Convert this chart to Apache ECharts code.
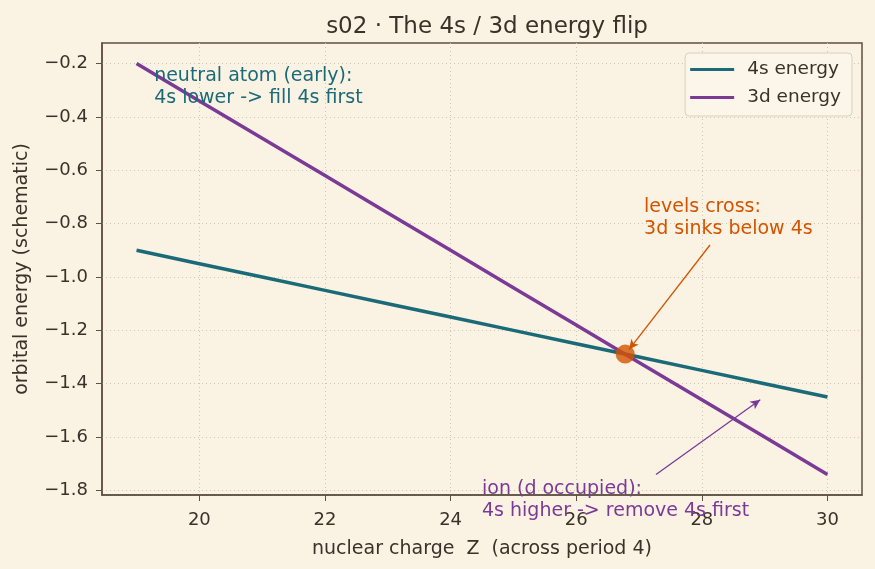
<!DOCTYPE html>
<html>
<head>
<meta charset="utf-8">
<script src="https://cdn.jsdelivr.net/npm/echarts@6/dist/echarts.min.js"></script>
<style>
  html, body { margin: 0; padding: 0; background: #faf2e3; }
  #chart_box { width: 875px; height: 569px; }
</style>
</head>
<body>
<div id="chart_box"></div>
<script>
// nuclear charge Z across period 4
var zValues = [19, 20, 21, 22, 23, 24, 25, 26, 27, 28, 29, 30]
var energy4s = [-0.90, -0.95, -1.00, -1.05, -1.10, -1.15, -1.20, -1.25, -1.30, -1.35, -1.40, -1.45]
var energy3d = [-0.20, -0.34, -0.48, -0.62, -0.76, -0.90, -1.04, -1.18, -1.32, -1.46, -1.60, -1.74]
var crossPoint = [26.78, -1.289]
var xTicks = [20, 22, 24, 26, 28, 30]
var yTicks = [-1.8, -1.6, -1.4, -1.2, -1.0, -0.8, -0.6, -0.4, -0.2]

var teal = '#1b6a78'
var purple = '#7b3a96'
var orange = '#d35400'
var ink = '#3a3228'
var font = 'DejaVu Sans'

function minus(v) {
  return String(v).replace('-', '\u2212')
}

var chartDom = document.getElementById('chart_box')
var myChart = echarts.init(chartDom)
var option

option = {
  backgroundColor: '#faf2e3',
  animation: false,
  textStyle: { fontFamily: font },
  title: {
    text: 's02 \u00b7 The 4s / 3d energy flip',
    left: 482,
    textAlign: 'center',
    top: 11,
    textStyle: { fontFamily: font, fontSize: 23, fontWeight: 'normal', color: ink }
  },
  legend: {
    right: 23,
    top: 53,
    orient: 'vertical',
    itemWidth: 44,
    itemHeight: 3,
    itemGap: 9,
    padding: [7, 11, 9, 5],
    backgroundColor: '#fbf5ea',
    borderColor: '#d9d0bf',
    borderWidth: 1,
    borderRadius: 4,
    textStyle: { fontFamily: font, fontSize: 18.5, color: ink, padding: [0, 0, 0, 8] },
    data: [
      { name: '4s energy', icon: 'rect' },
      { name: '3d energy', icon: 'rect' }
    ]
  },
  grid: {
    left: 102,
    right: 13,
    top: 43,
    bottom: 74,
    show: true,
    borderColor: '#5e5141',
    borderWidth: 1.5,
    backgroundColor: 'transparent'
  },
  xAxis: {
    type: 'value',
    min: 18.45,
    max: 30.55,
    name: 'nuclear charge  Z  (across period 4)',
    nameLocation: 'middle',
    nameGap: 45,
    nameTextStyle: { fontFamily: font, fontSize: 19, color: ink },
    axisLine: { show: true, onZero: false, lineStyle: { color: '#5e5141', width: 1.5 } },
    axisTick: { show: true, length: 6, customValues: xTicks, lineStyle: { color: '#5e5141' } },
    axisLabel: { customValues: xTicks, fontSize: 18, color: ink, margin: 16 },
    splitLine: { show: true, lineStyle: { color: '#cfc5b2', type: [1, 3], width: 1 } }
  },
  yAxis: {
    type: 'value',
    min: -1.817,
    max: -0.123,
    name: 'orbital energy (schematic)',
    nameLocation: 'middle',
    nameGap: 70,
    nameTextStyle: { fontFamily: font, fontSize: 19, color: ink },
    axisLine: { show: true, onZero: false, lineStyle: { color: '#5e5141', width: 1.5 } },
    axisTick: { show: true, length: 6, customValues: yTicks, lineStyle: { color: '#5e5141' } },
    axisLabel: {
      customValues: yTicks,
      fontSize: 18,
      color: ink,
      margin: 14,
      formatter: function (v) { return minus(v.toFixed(1)) }
    },
    splitLine: { show: true, lineStyle: { color: '#cfc5b2', type: [1, 3], width: 1 } }
  },
  series: [
    {
      name: '4s energy',
      type: 'line',
      symbol: 'none',
      color: teal,
      lineStyle: { width: 3.5, color: teal },
      data: zValues.map(function (z, i) { return [z, energy4s[i]] }),
      z: 2
    },
    {
      name: '3d energy',
      type: 'line',
      symbol: 'none',
      color: purple,
      lineStyle: { width: 3.5, color: purple },
      data: zValues.map(function (z, i) { return [z, energy3d[i]] }),
      z: 3,
      markLine: {
        silent: true,
        symbol: ['none', 'arrow'],
        symbolSize: [7, 10],
        label: { show: false },
        data: [
          [
            { coord: [28.13, -0.88], lineStyle: { color: orange, width: 1.3, type: 'solid' } },
            { coord: [26.84, -1.272] }
          ],
          [
            { coord: [27.27, -1.74], lineStyle: { color: purple, width: 1.3, type: 'solid' } },
            { coord: [28.93, -1.46] }
          ]
        ]
      }
    },
    {
      name: 'crossing',
      type: 'scatter',
      symbol: 'circle',
      symbolSize: 19,
      itemStyle: { color: orange },
      data: [crossPoint],
      z: 5
    }
  ]
}

option && myChart.setOption(option)

// annotation text, placed in data space
var notes = [
  { at: [19.28, -0.206], text: 'neutral atom (early):\n4s lower -> fill 4s first', color: teal },
  { at: [27.08, -0.696], text: 'levels cross:\n3d sinks below 4s', color: orange },
  { at: [24.5, -1.7525], text: 'ion (d occupied):\n4s higher -> remove 4s first', color: purple }
]
myChart.setOption({
  graphic: notes.map(function (n) {
    var p = myChart.convertToPixel({ gridIndex: 0 }, n.at)
    return {
      type: 'text',
      x: p[0],
      y: p[1],
      z: 10,
      style: {
        text: n.text,
        fill: n.color,
        font: '19px "DejaVu Sans"',
        lineHeight: 22,
        textVerticalAlign: 'top'
      }
    }
  })
})
</script>
</body>
</html>
